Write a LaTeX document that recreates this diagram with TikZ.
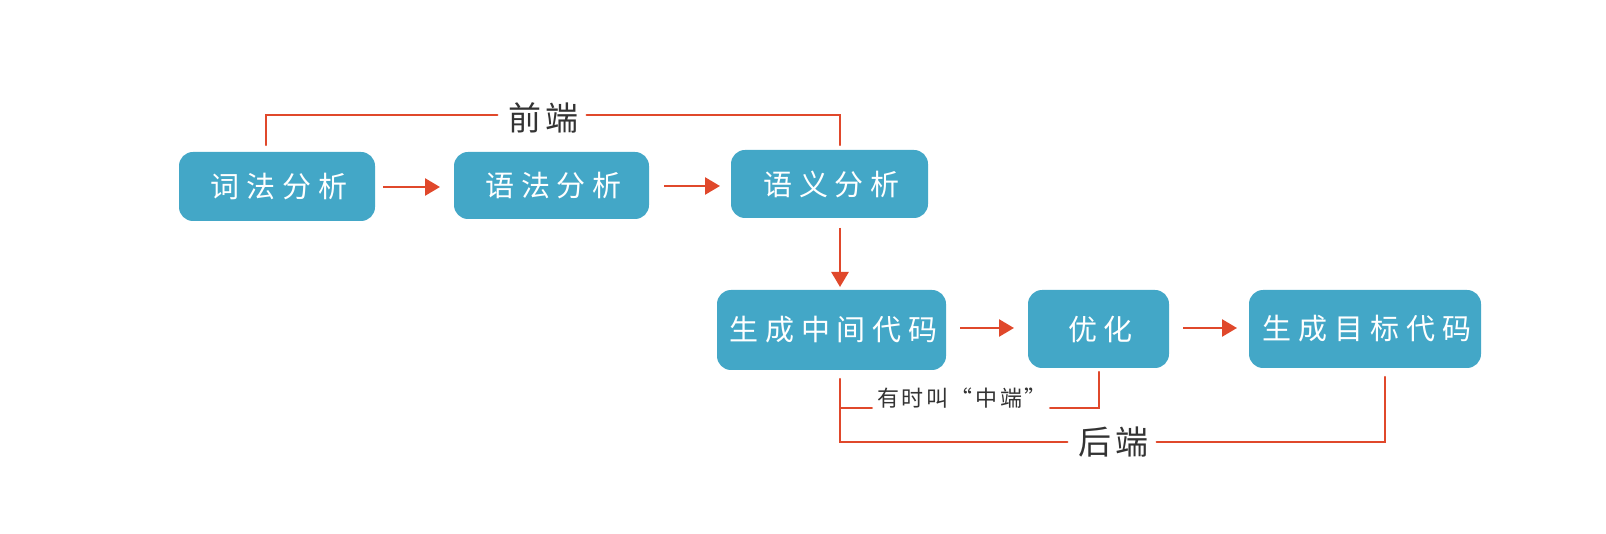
\documentclass[tikz,border=0pt]{standalone}
\usepackage{fontspec}
\setmainfont{Noto Sans CJK SC}
\newfontfamily\boxfont[LetterSpace=24]{Noto Sans CJK SC}
\newfontfamily\labelfont[LetterSpace=12]{Noto Sans CJK SC}
\usetikzlibrary{arrows.meta}
\definecolor{boxblue}{HTML}{43A7C7}
\definecolor{redline}{HTML}{E0482B}
\definecolor{labelgray}{HTML}{333333}
\tikzset{
  stagebox/.style={rectangle, rounded corners=14pt, fill=boxblue, draw=none,
    text=white, font=\boxfont\fontsize{29}{32}\selectfont, inner sep=0pt},
  flowarrow/.style={draw=redline, line width=2.6pt,
    -{Triangle[length=15pt,width=17pt]}, fill=redline},
  bracketline/.style={draw=redline, line width=2.4pt, line cap=round},
  bracketlabel/.style={text=labelgray, inner sep=8pt},
}
\begin{document}
\begin{tikzpicture}[x=1pt,y=-1pt]
\useasboundingbox (0,0) rectangle (1606,534);
\node[stagebox, minimum width=196pt, minimum height=69pt] (lex) at (277,186.5) {\hspace*{4pt}词法分析};
\node[stagebox, minimum width=195pt, minimum height=67pt] (syn) at (551.5,185.5) {\hspace*{4pt}语法分析};
\node[stagebox, minimum width=197pt, minimum height=68pt] (sem) at (829.5,184) {\hspace*{4pt}语义分析};
\node[stagebox, minimum width=229pt, minimum height=80pt] (ir) at (831.5,330) {\hspace*{4pt}生成中间代码};
\node[stagebox, minimum width=141pt, minimum height=78pt] (opt) at (1098.5,329) {\hspace*{4pt}优化};
\node[stagebox, minimum width=232pt, minimum height=78pt] (gen) at (1365,329) {\hspace*{4pt}生成目标代码};

% flow arrows
\coordinate (a1s) at (383,187); \coordinate (a1e) at (440,187);
\coordinate (a2s) at (664,186); \coordinate (a2e) at (720,186);
\coordinate (a3s) at (840,228); \coordinate (a3e) at (840,287);
\coordinate (a4s) at (960,328); \coordinate (a4e) at (1014,328);
\coordinate (a5s) at (1183,328); \coordinate (a5e) at (1237,328);
\draw[flowarrow] (a1s) -- (a1e);
\draw[flowarrow] (a2s) -- (a2e);
\draw[flowarrow] (a3s) -- (a3e);
\draw[flowarrow] (a4s) -- (a4e);
\draw[flowarrow] (a5s) -- (a5e);

% front end bracket
\node[bracketlabel, font=\labelfont\fontsize{33}{36}\selectfont] (fe) at (542,118) {\hspace*{3pt}前端};
\coordinate (fl) at (266,145); \coordinate (fr) at (840,145);
\draw[bracketline] (fl) -- (266,115) -- (fe.west |- 0,115);
\draw[bracketline] (fe.east |- 0,115) -- (840,115) -- (fr);

% middle end bracket
\node[bracketlabel, inner sep=3pt, font=\labelfont\fontsize{22}{26}\selectfont] (me) at (961,398) {\hspace*{2pt}有时叫“中端”};
\coordinate (ml) at (840,379); \coordinate (mr) at (1099,372);
\draw[bracketline] (ml) -- (840,408) -- (me.west |- 0,408);
\draw[bracketline] (me.east |- 0,408) -- (1099,408) -- (mr);

% back end bracket
\node[bracketlabel, font=\labelfont\fontsize{33}{36}\selectfont] (be) at (1112,442) {\hspace*{3pt}后端};
\coordinate (br) at (1385,377);
\draw[bracketline] (840,408) -- (840,442) -- (be.west |- 0,442);
\draw[bracketline] (be.east |- 0,442) -- (1385,442) -- (br);
\end{tikzpicture}
\end{document}
